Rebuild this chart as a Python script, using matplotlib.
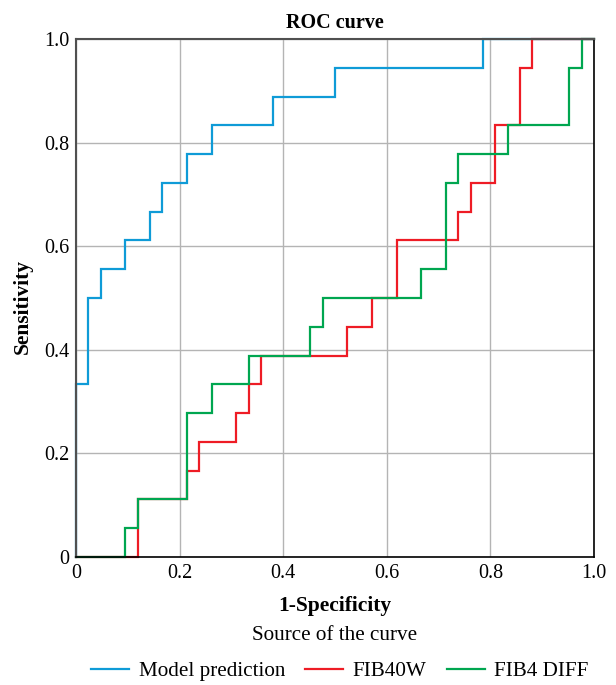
import numpy as np
import matplotlib
matplotlib.use("Agg")
import matplotlib.pyplot as plt
from matplotlib.ticker import FuncFormatter

# ------------------------------
# ROC data (counts: 42 negatives, 18 positives)
# ------------------------------
n_neg = 42
n_pos = 18

model_fp = [0, 0, 1, 1, 2, 2, 4, 4, 6, 6, 7, 7, 9, 9, 11, 11, 16, 16, 21, 21, 33, 33, 42]
model_tp = [0, 6, 6, 9, 9, 10, 10, 11, 11, 12, 12, 13, 13, 14, 14, 15, 15, 16, 16, 17, 17, 18, 18]

fib40w_fp = [0, 5, 5, 9, 9, 10, 10, 13, 13, 14, 14, 15, 15, 22, 22, 24, 24, 26, 26,
             31, 31, 32, 32, 34, 34, 36, 36, 37, 37, 42]
fib40w_tp = [0, 0, 2, 2, 3, 3, 4, 4, 5, 5, 6, 6, 7, 7, 8, 8, 9, 9, 11,
             11, 12, 12, 13, 13, 15, 15, 17, 17, 18, 18]

fib4diff_fp = [0, 4, 4, 5, 5, 9, 9, 11, 11, 14, 14, 19, 19, 20, 20, 28, 28, 30, 30,
               31, 31, 35, 35, 40, 40, 41, 41, 42]
fib4diff_tp = [0, 0, 1, 1, 2, 2, 5, 5, 6, 6, 7, 7, 8, 8, 9, 9, 10, 10, 13,
               13, 14, 14, 15, 15, 17, 17, 18, 18]

labels = ["Model prediction", "FIB40W", "FIB4 DIFF"]
colors = ["#0f9bd7", "#ee1c25", "#00a650"]

# ------------------------------
# Plot
# ------------------------------
plt.rcParams["font.family"] = ["Liberation Serif", "DejaVu Serif"]

fig = plt.figure(figsize=(6.16, 6.85), dpi=100)
ax = fig.add_axes([76 / 616, 1 - 557 / 685, 518 / 616, 518 / 685])

series = [(model_fp, model_tp), (fib40w_fp, fib40w_tp), (fib4diff_fp, fib4diff_tp)]
handles = []
for (fp, tp), lab, col in zip(series, labels, colors):
    h, = ax.plot(np.array(fp) / n_neg, np.array(tp) / n_pos, color=col, lw=1.6,
                 label=lab, clip_on=False, solid_joinstyle="miter")
    handles.append(h)

ax.set_xlim(0, 1)
ax.set_ylim(0, 1)
ticks = [0, 0.2, 0.4, 0.6, 0.8, 1.0]
ax.set_xticks(ticks)
ax.set_yticks(ticks)
fmt = FuncFormatter(lambda v, p: "0" if v == 0 else f"{v:.1f}")
ax.xaxis.set_major_formatter(fmt)
ax.yaxis.set_major_formatter(fmt)
ax.tick_params(length=0, labelsize=14.5, pad=5)
ax.grid(True, color="#b4b4b4", lw=1)
ax.set_axisbelow(True)

for side in ["top", "left"]:
    ax.spines[side].set_color("#505050")
    ax.spines[side].set_linewidth(1.5)
for side in ["bottom", "right"]:
    ax.spines[side].set_color("black")
    ax.spines[side].set_linewidth(1.2)

ax.set_title("ROC curve", fontsize=14.5, fontweight="bold", pad=8)

xc = 335 / 616
fig.text(23 / 616, 1 - 307 / 685, "Sensitivity", rotation=90,
         ha="center", va="center", fontsize=15.5, fontweight="bold")
fig.text(xc, 1 - 606 / 685, "1-Specificity",
         ha="center", va="center", fontsize=15.5, fontweight="bold")
fig.text(xc, 1 - 636 / 685, "Source of the curve",
         ha="center", va="center", fontsize=15.2)

fig.legend(handles=handles, labels=labels, loc="center", ncol=3,
           bbox_to_anchor=(340 / 616, 1 - 671 / 685), frameon=False,
           fontsize=15.2, handlelength=1.8, handletextpad=0.45, columnspacing=0.95,
           borderpad=0, borderaxespad=0)

fig.savefig("out.png", dpi=100)
